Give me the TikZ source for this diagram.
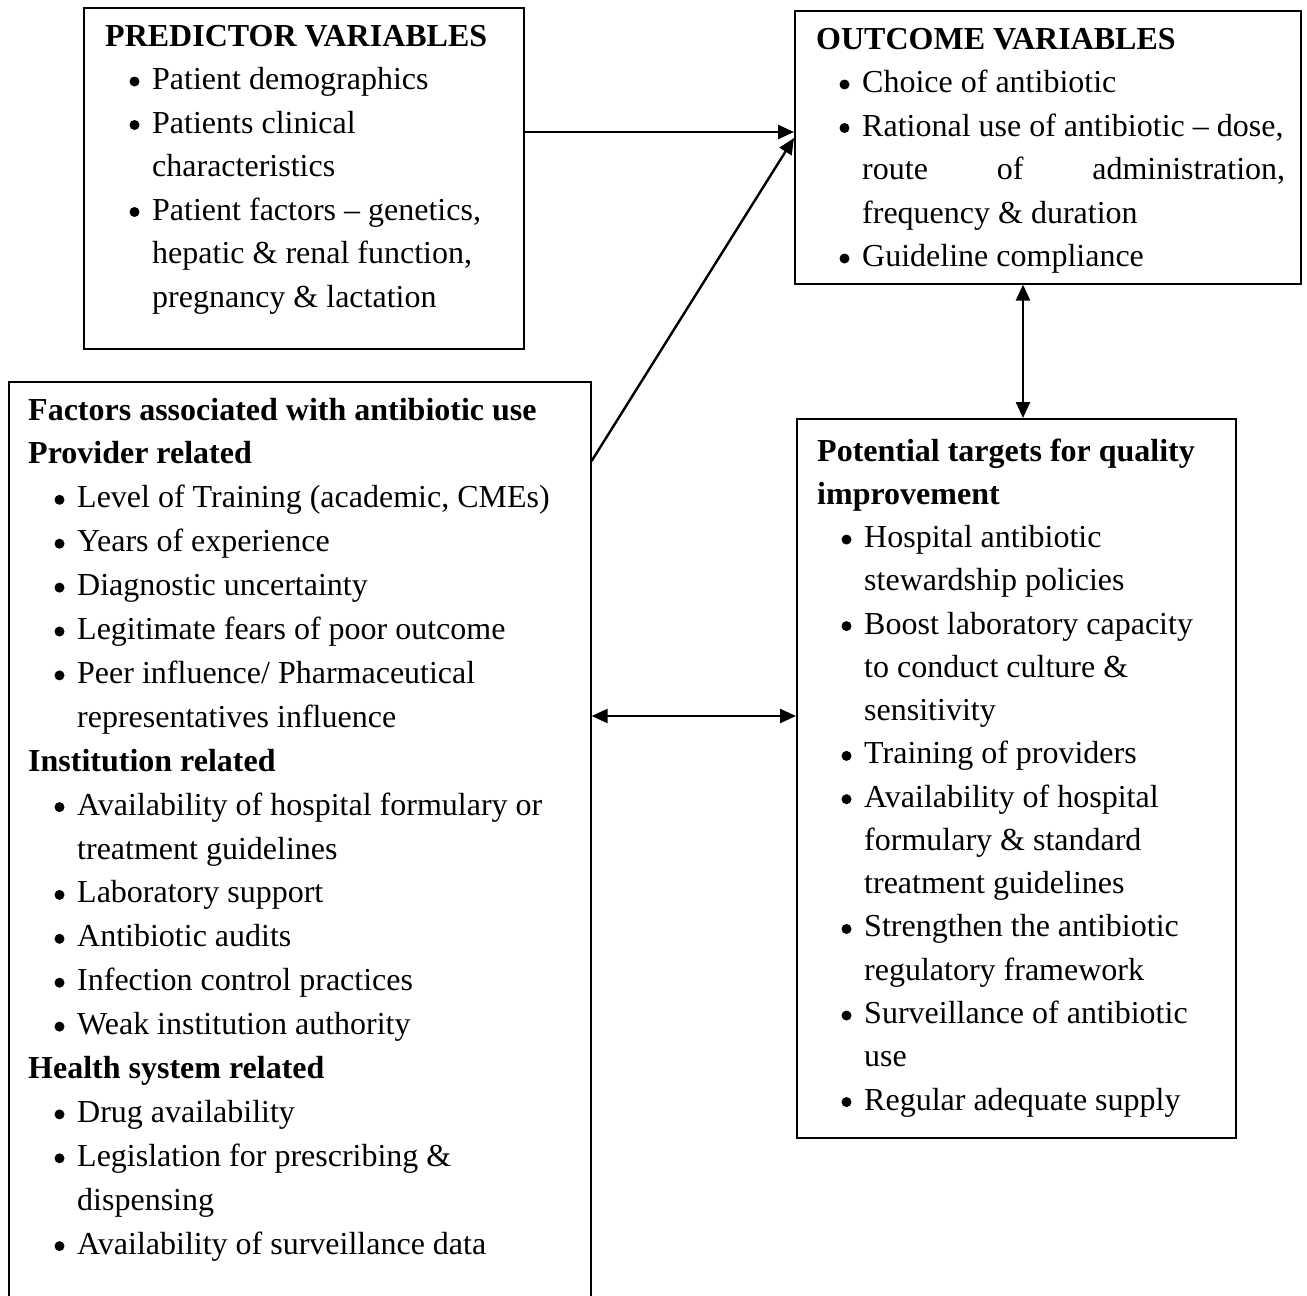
\documentclass[tikz,border=0pt]{standalone}
\usepackage{fontspec}
\setmainfont{Liberation Serif}
\usetikzlibrary{arrows.meta}
\newcommand\hdln[2]{\hspace*{-#1pt}\textbf{#2}}
\begin{document}
\begin{tikzpicture}[x=1pt,y=-1pt,
  box/.style={draw, line width=1.6pt, inner sep=0pt, anchor=north west},
  txt/.style={anchor=base west, inner sep=0pt, font=\fontsize{32}{40}\selectfont},
  dot/.style={fill=black},
  arr/.style={line width=2.4pt, -{Triangle[length=16pt,width=14pt]}},
  darr/.style={line width=2.4pt, {Triangle[length=16pt,width=14pt]}-{Triangle[length=16pt,width=14pt]}}]
\clip (0,0) rectangle (1307,1296);
\fill[white] (0,0) rectangle (1307,1296);
% boxes
\node[box, minimum width=440pt, minimum height=341pt] (pred) at (83,7) {};
\node[box, minimum width=506pt, minimum height=273pt] (outc) at (794,10) {};
\node[box, minimum width=582pt, minimum height=930pt] (fact) at (8,381) {};
\node[box, minimum width=439pt, minimum height=719pt] (targ) at (796,418) {};
% predictor text
\foreach \t [count=\i from 0] in {
  {\hdln{47}{PREDICTOR VARIABLES}},
  {Patient demographics},
  {Patients clinical},
  {characteristics},
  {Patient factors – genetics,},
  {hepatic \& renal function,},
  {pregnancy \& lactation}}
  \node[txt] (p\i) at (152,{46+43.5*\i}) {\t};
\foreach \i in {1,2,4}
  \fill[dot] ([shift={(-17.5pt,8pt)}]p\i.base west) circle (5pt);
% outcome text
\foreach \t [count=\i from 0] in {
  {\hdln{46}{OUTCOME VARIABLES}},
  {Choice of antibiotic},
  {Rational use of antibiotic – dose,},
  {\hbox to 423pt{route\hfill of\hfill administration,}},
  {frequency \& duration},
  {Guideline compliance}}
  \node[txt] (o\i) at (862,{49+43.5*\i}) {\t};
\foreach \i in {1,2,5}
  \fill[dot] ([shift={(-17.5pt,8pt)}]o\i.base west) circle (5pt);
% factors text
\foreach \t [count=\i from 0] in {
  {\hdln{49}{Factors associated with antibiotic use}},
  {\hdln{49}{Provider related}},
  {Level of Training (academic, CMEs)},
  {Years of experience},
  {Diagnostic uncertainty},
  {Legitimate fears of poor outcome},
  {Peer influence/ Pharmaceutical},
  {representatives influence},
  {\hdln{49}{Institution related}},
  {Availability of hospital formulary or},
  {treatment guidelines},
  {Laboratory support},
  {Antibiotic audits},
  {Infection control practices},
  {Weak institution authority},
  {\hdln{49}{Health system related}},
  {Drug availability},
  {Legislation for prescribing \&},
  {dispensing},
  {Availability of surveillance data}}
  \node[txt] (f\i) at (77,{420+43.9*\i}) {\t};
\foreach \i in {2,3,4,5,6,9,11,12,13,14,16,17,19}
  \fill[dot] ([shift={(-17.5pt,8pt)}]f\i.base west) circle (5pt);
% targets text
\foreach \t [count=\i from 0] in {
  {\hdln{47}{Potential targets for quality}},
  {\hdln{47}{improvement}},
  {Hospital antibiotic},
  {stewardship policies},
  {Boost laboratory capacity},
  {to conduct culture \&},
  {sensitivity},
  {Training of providers},
  {Availability of hospital},
  {formulary \& standard},
  {treatment guidelines},
  {Strengthen the antibiotic},
  {regulatory framework},
  {Surveillance of antibiotic},
  {use},
  {Regular adequate supply}}
  \node[txt] (t\i) at (864,{461+43.27*\i}) {\t};
\foreach \i in {2,4,7,8,11,13,15}
  \fill[dot] ([shift={(-17.5pt,8pt)}]t\i.base west) circle (5pt);
% connectors
\draw[arr] (pred.east |- 0,132) -- (outc.west |- 0,132);
\draw[arr] (fact.east |- 0,461) -- (outc.west |- 0,138);
\draw[darr] (outc.south -| 1023,0) -- (targ.north -| 1023,0);
\draw[darr] (fact.east |- 0,716) -- (targ.west |- 0,716);
\end{tikzpicture}
\end{document}
